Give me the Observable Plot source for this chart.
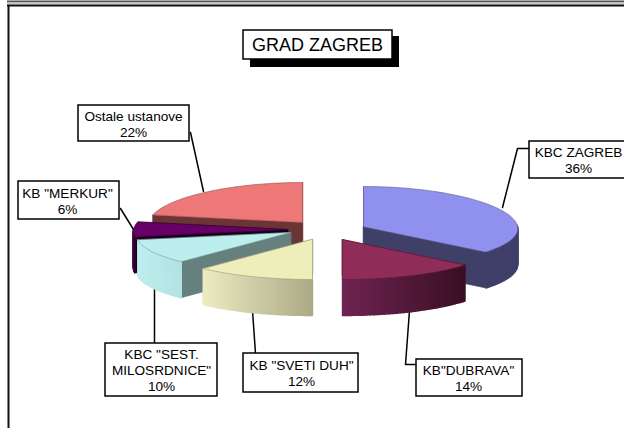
<!DOCTYPE html>
<html><head><meta charset="utf-8">
<script src="https://cdn.jsdelivr.net/npm/d3@7"></script>
<script src="https://cdn.jsdelivr.net/npm/@observablehq/plot@0.6"></script>
<style>html,body{margin:0;padding:0;background:#fff}svg{display:block}</style>
</head><body>
<script>
// ---- data
const categories = ["KBC ZAGREB", "KB\"DUBRAVA\"", "KB \"SVETI DUH\"", "KBC \"SEST.\nMILOSRDNICE\"", "KB \"MERKUR\"", "Ostale ustanove"];
const shares = [36, 14, 12, 10, 6, 22];
const title = "GRAD ZAGREB";

// ---- appearance of the slices
const topColors  = ["#9090ee", "#8f2d58", "#eeeebb", "#bdeeee", "#660066", "#ee7777"];
const cutColors  = ["#3f3f68", "#5a1a3c", "#a8a888", "#668080", "#160016", "#6b3535"];
const wallLeft   = ["#3f3f68", "#6e2450", "#ecebc2", "#bdeeee", "#3a003a", "#6b3535"];
const wallRight  = ["#3f3f68", "#3a0f25", "#aba985", "#b4e2e2", "#3a003a", "#6b3535"];

// ---- layout in chart pixels
const apexX = [363, 342, 312, 290, 287, 302];
const apexY = [226, 239, 239, 232, 229, 222];
const rx = 154, ry = 40, depth = 36, perspective = 0.05;
const boxX1 = [529, 416, 243, 105, 18, 78];
const boxX2 = [628, 522, 358, 217, 119, 189];
const boxY1 = [141, 359, 353, 343, 181, 105];
const boxY2 = [178, 396, 392, 396, 219, 141];
const labelX = [578, 468, 301, 161, 67, 133];
const leaderPaths = [
  [[502, 207], [517, 148], [529, 148]],
  [[409, 310], [405, 364], [416, 364]],
  [[252, 310], [255, 353]],
  [[154, 288], [154, 343]],
  [[120, 208], [133, 229]],
  [[190, 132], [203, 191]]
];
const paintOrder = [5, 4, 0, 3, 2, 1];
const frameTop = [[1, "#555"], [3, "#ccc"], [5, "#111"]];

// ---- geometry derived from the shares
const arcs = d3.pie().sort(null)(shares);
const rim = (i, t, drop = 0) => {
  const f = 1 - perspective * Math.cos(t);
  return [apexX[i] + rx * f * Math.sin(t), apexY[i] - ry * Math.cos(t) + drop];
};
const faces = [];
const face = (id, color, edge, width, pts) => pts.forEach(p => faces.push({id, color, edge, width, x: p[0], y: p[1]}));
for (const i of paintOrder) {
  const a0 = arcs[i].startAngle, a1 = arcs[i].endAngle;
  const apex = [apexX[i], apexY[i]], low = [apexX[i], apexY[i] + depth];
  face(`${i}c0`, cutColors[i], cutColors[i], 0.6, [apex, rim(i, a0), rim(i, a0, depth), low]);
  face(`${i}c1`, cutColors[i], cutColors[i], 0.6, [apex, rim(i, a1), rim(i, a1, depth), low]);
  const n = Math.ceil((a1 - a0) / 0.025);
  const ts = d3.range(n + 1).map(k => a0 + (a1 - a0) * k / n);
  const xs = ts.map(t => rim(i, t)[0]);
  const [x0, x1] = d3.extent(xs);
  const shade = d3.interpolateRgb(wallLeft[i], wallRight[i]);
  ts.slice(1).forEach((t, k) => {
    const p = ts[k];
    if (Math.cos(p) > 0.02 && Math.cos(t) > 0.02) return;
    const c = shade(((rim(i, p)[0] + rim(i, t)[0]) / 2 - x0) / (x1 - x0 || 1));
    face(`${i}w${k}`, c, c, 1.4, [rim(i, p), rim(i, t), rim(i, t, depth), rim(i, p, depth)]);
  });
  const top = [apex, ...ts.map(t => rim(i, t))];
  face(`${i}t`, topColors[i], d3.color(topColors[i]).darker(1.2).formatHex(), 0.6, top);
}

const boxes = categories.map((name, i) => ({
  x1: boxX1[i], x2: boxX2[i], y1: boxY1[i], y2: boxY2[i],
  label: `${name}\n${shares[i]}%`,
  cx: labelX[i], cy: (boxY1[i] + boxY2[i]) / 2
}));
const leaders = leaderPaths.flatMap((path, i) => path.map(p => ({i, x: p[0], y: p[1]})));
const font = "Liberation Sans, Arial, sans-serif";

const chart = Plot.plot({
  width: 624, height: 428, margin: 0,
  x: {domain: [0, 624], range: [0, 624], axis: null},
  y: {domain: [0, 428], range: [0, 428], axis: null},
  color: {type: "identity"},
  marks: [
    Plot.ruleY(frameTop, {y: d => d[0], x1: 7, x2: 624, stroke: d => d[1], strokeWidth: 2}),
    Plot.ruleX([8], {y1: 5, y2: 428, stroke: "#111", strokeWidth: 2}),
    Plot.line(leaders, {x: "x", y: "y", z: "i", stroke: "#000", strokeWidth: 1.5, curve: "linear"}),
    Plot.line(faces, {x: "x", y: "y", z: "id", fill: "color", stroke: "edge", strokeWidth: "width", curve: "linear-closed"}),
    Plot.rect(boxes, {x1: "x1", x2: "x2", y1: "y1", y2: "y2", fill: "#fff", stroke: "#000", strokeWidth: 1.5}),
    Plot.text(boxes, {x: "cx", y: "cy", text: "label", fontSize: 13.6, lineHeight: 1.18, fill: "#000", fontFamily: font}),
    Plot.rect([title], {x1: 250, x2: 399, y1: 36, y2: 67, fill: "#000"}),
    Plot.rect([title], {x1: 243, x2: 392, y1: 30, y2: 59, fill: "#fff", stroke: "#000", strokeWidth: 1.5}),
    Plot.text([title], {x: 317, y: 44.5, text: d => d, fontSize: 18, fill: "#000", fontFamily: font})
  ]
});
document.body.appendChild(chart);
</script>
</body></html>
